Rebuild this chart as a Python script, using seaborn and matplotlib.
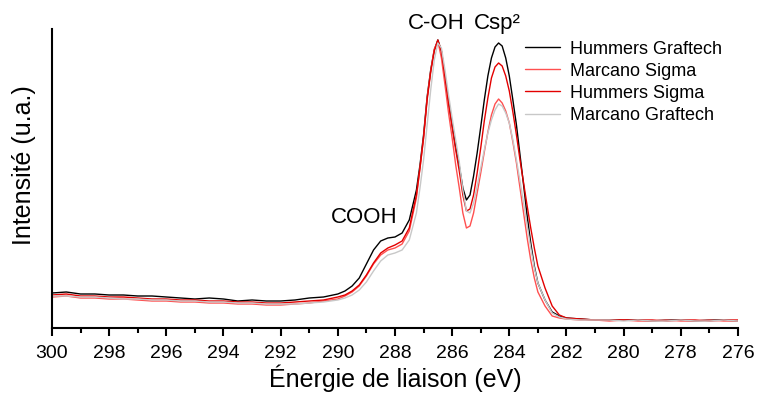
import matplotlib
matplotlib.use("Agg")
import matplotlib.pyplot as plt
from matplotlib.ticker import MultipleLocator
import pandas as pd
import seaborn as sns

# Binding energies (eV) and intensities (a.u.)
energy = [300, 299.5, 299, 298.5, 298, 297.5, 297, 296.5, 296, 295.5, 295,
          294.5, 294, 293.5, 293, 292.5, 292, 291.5, 291, 290.5, 290,
          289.75, 289.5, 289.25, 289, 288.75, 288.5, 288.25, 288, 287.75, 287.5,
          287.25, 287.125, 287, 286.875, 286.75, 286.625, 286.5, 286.375,
          286.25, 286.125, 286, 285.875, 285.75, 285.625, 285.5, 285.375,
          285.25, 285.125, 285, 284.875, 284.75, 284.625, 284.5, 284.375,
          284.25, 284.125, 284, 283.875, 283.75, 283.625, 283.5, 283.375,
          283.25, 283.125, 283,
          282.75, 282.5, 282.25, 282, 281.5, 281, 280.5, 280, 279.5, 279,
          278.5, 278, 277.5, 277, 276.5, 276]

hummers_graftech = [35, 36, 34, 34, 33, 33, 32, 32, 31, 30, 29,
                    30, 29, 27, 28, 27, 27, 28, 30, 31, 34,
                    37, 42, 50, 64, 78, 87, 90, 91, 95, 108,
                    138, 163, 193, 231, 258, 278, 288, 277, 252, 226, 203, 181,
                    162, 140, 128, 133, 152, 175, 201, 228, 252, 270, 281, 285,
                    282, 270, 252, 228, 203, 173, 143, 112, 85, 62, 45,
                    28, 16, 12, 10, 9, 8, 8, 8, 8, 7, 8, 8, 7, 8, 8, 7]

marcano_sigma = [31, 32, 30, 30, 29, 29, 28, 27, 27, 26, 26,
                 25, 25, 24, 24, 23, 23, 24, 25, 27, 29,
                 32, 36, 42, 52, 64, 73, 78, 80, 84, 97,
                 130, 160, 190, 230, 257, 279, 287, 270, 243, 215, 190, 163,
                 140, 115, 100, 102, 115, 135, 155, 176, 196, 213, 224, 229,
                 225, 217, 205, 186, 165, 140, 115, 90, 68, 50, 36,
                 22, 12, 10, 9, 8, 8, 7, 8, 7, 7, 8, 7, 7, 8, 7, 7]

hummers_sigma = [33, 34, 32, 32, 31, 31, 30, 29, 29, 28, 28,
                 27, 27, 26, 26, 25, 25, 26, 27, 28, 31,
                 33, 37, 43, 53, 65, 75, 80, 83, 87, 100,
                 133, 160, 190, 228, 256, 277, 288, 277, 252, 225, 201, 178,
                 157, 133, 117, 119, 133, 155, 180, 207, 230, 250, 261, 265,
                 262, 252, 237, 216, 193, 168, 145, 122, 100, 80, 62,
                 40, 22, 13, 10, 9, 8, 8, 8, 8, 8, 7, 8, 8, 7, 8, 8]

marcano_graftech = [32, 32, 31, 31, 30, 29, 29, 28, 28, 27, 27,
                    26, 26, 25, 25, 24, 24, 24, 25, 26, 28,
                    30, 33, 38, 46, 57, 67, 73, 75, 78, 88,
                    115, 140, 168, 203, 238, 268, 285, 280, 258, 233, 210, 188,
                    166, 138, 117, 115, 125, 142, 160, 178, 195, 208, 218, 224,
                    222, 215, 205, 188, 168, 147, 125, 102, 80, 60, 45,
                    28, 15, 11, 9, 8, 8, 8, 7, 8, 7, 7, 8, 7, 7, 8, 7]

series_names = ["Hummers Graftech", "Marcano Sigma", "Hummers Sigma", "Marcano Graftech"]
series_colors = ["#000000", "#ff5050", "#e30000", "#c8c8c8"]

df = pd.DataFrame({
    "energy": energy * 4,
    "intensity": hummers_graftech + marcano_sigma + hummers_sigma + marcano_graftech,
    "sample": sum([[n] * len(energy) for n in series_names], []),
})

sns.set_style("ticks")
plt.rcParams["font.family"] = ["Liberation Sans", "DejaVu Sans"]
plt.rcParams["text.color"] = "black"
plt.rcParams["axes.labelcolor"] = "black"
plt.rcParams["xtick.color"] = "black"
plt.rcParams["axes.edgecolor"] = "black"

fig = plt.figure(figsize=(7.6, 3.94), dpi=100)
ax = fig.add_axes([0.0684, 0.1675, 0.9026, 0.7589])

sns.lineplot(data=df, x="energy", y="intensity", hue="sample",
             hue_order=series_names, palette=series_colors,
             linewidth=1.0, ax=ax, sort=False, estimator=None)

ax.set_xlim(300, 276)
ax.set_ylim(0, 299)
ax.xaxis.set_major_locator(MultipleLocator(2))
ax.xaxis.set_minor_locator(MultipleLocator(1))
ax.tick_params(axis="x", which="major", direction="out", length=6, width=1.5,
               labelsize=14, pad=6)
ax.tick_params(axis="x", which="minor", direction="out", length=3.5, width=1.5)
ax.set_yticks([])
for s in ["top", "right"]:
    ax.spines[s].set_visible(False)
for s in ["left", "bottom"]:
    ax.spines[s].set_linewidth(1.5)

ax.set_xlabel("Énergie de liaison (eV)", fontsize=18, labelpad=2)
ax.set_ylabel("Intensité (u.a.)", fontsize=18)
ax.yaxis.set_label_coords(-0.023, 0.545)

ax.text(286.56, 304, "C-OH", fontsize=16, ha="center", va="center", clip_on=False)
ax.text(284.41, 304, "Csp²", fontsize=16, ha="center", va="center", clip_on=False)
ax.text(289.08, 111, "COOH", fontsize=16, ha="center", va="center")

ax.legend(loc="upper left", bbox_to_anchor=(0.679, 0.985), frameon=False,
          fontsize=13, handlelength=1.94, handletextpad=0.55,
          labelspacing=0.28, borderaxespad=0)

fig.savefig("out.png", dpi=100)
